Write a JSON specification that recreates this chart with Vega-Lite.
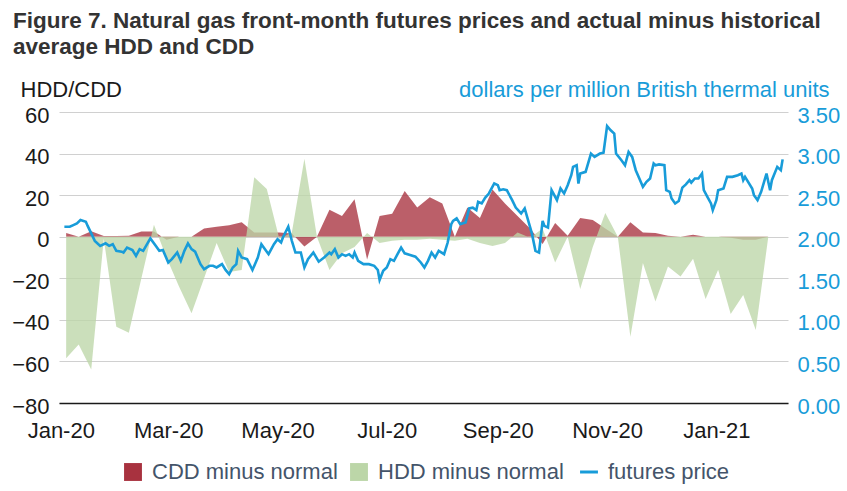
{
  "$schema": "https://vega.github.io/schema/vega-lite/v6.json",
  "width": 729,
  "height": 291,
  "autosize": {"type": "none"},
  "padding": {"left": 59, "top": 112, "right": 59, "bottom": 88},
  "background": "white",
  "title": {
    "text": ["Figure 7. Natural gas front-month futures prices and actual minus historical", "average HDD and CDD"],
    "anchor": "start",
    "frame": "group",
    "fontSize": 22.5,
    "fontWeight": "bold",
    "color": "#333333",
    "lineHeight": 26,
    "dx": -46,
    "offset": 20
  },
  "datasets": {
    "weekly": [
      {"date": "2020-01-04", "HDD": -58.5, "CDD": 1.8},
      {"date": "2020-01-11", "HDD": -51.8, "CDD": 0},
      {"date": "2020-01-18", "HDD": -63.9, "CDD": 2.6},
      {"date": "2020-01-25", "HDD": -1, "CDD": 0.3},
      {"date": "2020-02-01", "HDD": -43.3, "CDD": 0.3},
      {"date": "2020-02-08", "HDD": -46.2, "CDD": 0.5},
      {"date": "2020-02-15", "HDD": -20, "CDD": 2.5},
      {"date": "2020-02-22", "HDD": 5.8, "CDD": 2.5},
      {"date": "2020-02-29", "HDD": -10, "CDD": -1.5},
      {"date": "2020-03-07", "HDD": -24, "CDD": 0},
      {"date": "2020-03-14", "HDD": -36.8, "CDD": 0},
      {"date": "2020-03-21", "HDD": -20, "CDD": 4},
      {"date": "2020-03-28", "HDD": -3, "CDD": 4.8},
      {"date": "2020-04-04", "HDD": -17, "CDD": 5.5},
      {"date": "2020-04-11", "HDD": -16, "CDD": 7},
      {"date": "2020-04-18", "HDD": 28.6, "CDD": 2},
      {"date": "2020-04-25", "HDD": 23, "CDD": 2},
      {"date": "2020-05-02", "HDD": -1, "CDD": 2},
      {"date": "2020-05-09", "HDD": 2, "CDD": 1.5},
      {"date": "2020-05-16", "HDD": 37.5, "CDD": -4.7},
      {"date": "2020-05-23", "HDD": 0, "CDD": 0},
      {"date": "2020-05-30", "HDD": -16, "CDD": 13},
      {"date": "2020-06-06", "HDD": -8, "CDD": 10},
      {"date": "2020-06-13", "HDD": -5, "CDD": 18},
      {"date": "2020-06-20", "HDD": 1.8, "CDD": -11},
      {"date": "2020-06-27", "HDD": -3, "CDD": 10},
      {"date": "2020-07-04", "HDD": -2, "CDD": 11},
      {"date": "2020-07-11", "HDD": -1.5, "CDD": 22},
      {"date": "2020-07-18", "HDD": -1.5, "CDD": 14},
      {"date": "2020-07-25", "HDD": -1, "CDD": 19},
      {"date": "2020-08-01", "HDD": -1.5, "CDD": 16},
      {"date": "2020-08-08", "HDD": -2, "CDD": 0},
      {"date": "2020-08-15", "HDD": -1, "CDD": 14},
      {"date": "2020-08-22", "HDD": -3, "CDD": 9},
      {"date": "2020-08-29", "HDD": -4.5, "CDD": 22.7},
      {"date": "2020-09-05", "HDD": -3, "CDD": 16},
      {"date": "2020-09-12", "HDD": 2, "CDD": 10},
      {"date": "2020-09-19", "HDD": -0.5, "CDD": 4},
      {"date": "2020-09-26", "HDD": 4, "CDD": -3.5},
      {"date": "2020-10-03", "HDD": -12.4, "CDD": 6.6},
      {"date": "2020-10-10", "HDD": 0, "CDD": 0.5},
      {"date": "2020-10-17", "HDD": -25.2, "CDD": 9},
      {"date": "2020-10-24", "HDD": -5, "CDD": 8},
      {"date": "2020-10-31", "HDD": 11.4, "CDD": 4},
      {"date": "2020-11-07", "HDD": 0, "CDD": 0},
      {"date": "2020-11-14", "HDD": -48.1, "CDD": 7},
      {"date": "2020-11-21", "HDD": -12.7, "CDD": 2},
      {"date": "2020-11-28", "HDD": -31.2, "CDD": 1.8},
      {"date": "2020-12-05", "HDD": -14.3, "CDD": 0.5},
      {"date": "2020-12-12", "HDD": -19.2, "CDD": 0},
      {"date": "2020-12-19", "HDD": -10.6, "CDD": 1},
      {"date": "2020-12-26", "HDD": -30, "CDD": 0},
      {"date": "2021-01-02", "HDD": -15.9, "CDD": 0},
      {"date": "2021-01-09", "HDD": -37.2, "CDD": -0.5},
      {"date": "2021-01-16", "HDD": -28, "CDD": -1.5},
      {"date": "2021-01-23", "HDD": -44.9, "CDD": -1.5},
      {"date": "2021-01-30", "HDD": 0, "CDD": 0}
    ],
    "price": [
      {"date": "2020-01-03", "price": 2.12},
      {"date": "2020-01-06", "price": 2.12},
      {"date": "2020-01-08", "price": 2.14},
      {"date": "2020-01-10", "price": 2.16},
      {"date": "2020-01-12", "price": 2.2},
      {"date": "2020-01-15", "price": 2.18},
      {"date": "2020-01-16", "price": 2.13},
      {"date": "2020-01-18", "price": 2.04},
      {"date": "2020-01-20", "price": 1.95},
      {"date": "2020-01-23", "price": 1.89},
      {"date": "2020-01-26", "price": 1.92},
      {"date": "2020-01-28", "price": 1.89},
      {"date": "2020-01-30", "price": 1.91},
      {"date": "2020-02-01", "price": 1.83},
      {"date": "2020-02-04", "price": 1.82},
      {"date": "2020-02-05", "price": 1.81},
      {"date": "2020-02-07", "price": 1.87},
      {"date": "2020-02-10", "price": 1.84},
      {"date": "2020-02-12", "price": 1.77},
      {"date": "2020-02-14", "price": 1.85},
      {"date": "2020-02-16", "price": 1.83},
      {"date": "2020-02-20", "price": 1.98},
      {"date": "2020-02-23", "price": 1.89},
      {"date": "2020-02-25", "price": 1.83},
      {"date": "2020-02-27", "price": 1.84},
      {"date": "2020-03-01", "price": 1.69},
      {"date": "2020-03-03", "price": 1.73},
      {"date": "2020-03-06", "price": 1.81},
      {"date": "2020-03-08", "price": 1.71},
      {"date": "2020-03-10", "price": 1.83},
      {"date": "2020-03-12", "price": 1.92},
      {"date": "2020-03-14", "price": 1.85},
      {"date": "2020-03-16", "price": 1.82},
      {"date": "2020-03-19", "price": 1.67},
      {"date": "2020-03-21", "price": 1.61},
      {"date": "2020-03-24", "price": 1.65},
      {"date": "2020-03-26", "price": 1.65},
      {"date": "2020-03-28", "price": 1.63},
      {"date": "2020-03-31", "price": 1.67},
      {"date": "2020-04-02", "price": 1.6},
      {"date": "2020-04-04", "price": 1.55},
      {"date": "2020-04-06", "price": 1.63},
      {"date": "2020-04-08", "price": 1.67},
      {"date": "2020-04-09", "price": 1.83},
      {"date": "2020-04-11", "price": 1.75},
      {"date": "2020-04-14", "price": 1.73},
      {"date": "2020-04-17", "price": 1.6},
      {"date": "2020-04-20", "price": 1.75},
      {"date": "2020-04-22", "price": 1.91},
      {"date": "2020-04-24", "price": 1.85},
      {"date": "2020-04-26", "price": 1.79},
      {"date": "2020-04-29", "price": 1.91},
      {"date": "2020-05-01", "price": 1.97},
      {"date": "2020-05-03", "price": 1.93},
      {"date": "2020-05-04", "price": 1.99},
      {"date": "2020-05-07", "price": 2.12},
      {"date": "2020-05-09", "price": 1.95},
      {"date": "2020-05-11", "price": 1.81},
      {"date": "2020-05-14", "price": 1.81},
      {"date": "2020-05-16", "price": 1.63},
      {"date": "2020-05-18", "price": 1.73},
      {"date": "2020-05-21", "price": 1.81},
      {"date": "2020-05-24", "price": 1.7},
      {"date": "2020-05-27", "price": 1.75},
      {"date": "2020-05-30", "price": 1.81},
      {"date": "2020-05-31", "price": 1.79},
      {"date": "2020-06-02", "price": 1.85},
      {"date": "2020-06-04", "price": 1.75},
      {"date": "2020-06-06", "price": 1.79},
      {"date": "2020-06-08", "price": 1.77},
      {"date": "2020-06-10", "price": 1.79},
      {"date": "2020-06-12", "price": 1.75},
      {"date": "2020-06-13", "price": 1.81},
      {"date": "2020-06-15", "price": 1.71},
      {"date": "2020-06-18", "price": 1.67},
      {"date": "2020-06-21", "price": 1.67},
      {"date": "2020-06-24", "price": 1.65},
      {"date": "2020-06-26", "price": 1.6},
      {"date": "2020-06-27", "price": 1.48},
      {"date": "2020-06-29", "price": 1.59},
      {"date": "2020-07-01", "price": 1.63},
      {"date": "2020-07-03", "price": 1.73},
      {"date": "2020-07-05", "price": 1.71},
      {"date": "2020-07-07", "price": 1.79},
      {"date": "2020-07-09", "price": 1.87},
      {"date": "2020-07-11", "price": 1.8},
      {"date": "2020-07-14", "price": 1.78},
      {"date": "2020-07-17", "price": 1.76},
      {"date": "2020-07-20", "price": 1.69},
      {"date": "2020-07-22", "price": 1.63},
      {"date": "2020-07-24", "price": 1.71},
      {"date": "2020-07-26", "price": 1.81},
      {"date": "2020-07-28", "price": 1.75},
      {"date": "2020-07-30", "price": 1.83},
      {"date": "2020-08-02", "price": 1.79},
      {"date": "2020-08-04", "price": 1.93},
      {"date": "2020-08-06", "price": 2.15},
      {"date": "2020-08-07", "price": 2.19},
      {"date": "2020-08-09", "price": 2.22},
      {"date": "2020-08-11", "price": 2.15},
      {"date": "2020-08-14", "price": 2.17},
      {"date": "2020-08-16", "price": 2.34},
      {"date": "2020-08-18", "price": 2.35},
      {"date": "2020-08-20", "price": 2.32},
      {"date": "2020-08-21", "price": 2.42},
      {"date": "2020-08-23", "price": 2.4},
      {"date": "2020-08-25", "price": 2.47},
      {"date": "2020-08-27", "price": 2.52},
      {"date": "2020-08-30", "price": 2.64},
      {"date": "2020-09-01", "price": 2.62},
      {"date": "2020-09-02", "price": 2.56},
      {"date": "2020-09-04", "price": 2.57},
      {"date": "2020-09-06", "price": 2.56},
      {"date": "2020-09-09", "price": 2.44},
      {"date": "2020-09-11", "price": 2.35},
      {"date": "2020-09-14", "price": 2.28},
      {"date": "2020-09-16", "price": 2.34},
      {"date": "2020-09-18", "price": 2.19},
      {"date": "2020-09-20", "price": 2.04},
      {"date": "2020-09-22", "price": 1.83},
      {"date": "2020-09-24", "price": 1.81},
      {"date": "2020-09-26", "price": 2.19},
      {"date": "2020-09-27", "price": 2.13},
      {"date": "2020-09-29", "price": 2.11},
      {"date": "2020-10-01", "price": 2.56},
      {"date": "2020-10-02", "price": 2.52},
      {"date": "2020-10-04", "price": 2.44},
      {"date": "2020-10-06", "price": 2.58},
      {"date": "2020-10-08", "price": 2.52},
      {"date": "2020-10-10", "price": 2.62},
      {"date": "2020-10-12", "price": 2.74},
      {"date": "2020-10-13", "price": 2.84},
      {"date": "2020-10-15", "price": 2.86},
      {"date": "2020-10-16", "price": 2.64},
      {"date": "2020-10-17", "price": 2.76},
      {"date": "2020-10-20", "price": 2.78},
      {"date": "2020-10-23", "price": 3.0},
      {"date": "2020-10-25", "price": 2.96},
      {"date": "2020-10-28", "price": 3.0},
      {"date": "2020-10-30", "price": 3.01},
      {"date": "2020-11-01", "price": 3.33},
      {"date": "2020-11-03", "price": 3.28},
      {"date": "2020-11-05", "price": 3.24},
      {"date": "2020-11-06", "price": 3.0},
      {"date": "2020-11-09", "price": 2.92},
      {"date": "2020-11-11", "price": 2.86},
      {"date": "2020-11-13", "price": 3.02},
      {"date": "2020-11-15", "price": 2.96},
      {"date": "2020-11-17", "price": 2.8},
      {"date": "2020-11-19", "price": 2.7},
      {"date": "2020-11-21", "price": 2.6},
      {"date": "2020-11-23", "price": 2.66},
      {"date": "2020-11-25", "price": 2.7},
      {"date": "2020-11-27", "price": 2.88},
      {"date": "2020-11-28", "price": 2.86},
      {"date": "2020-11-30", "price": 2.87},
      {"date": "2020-12-03", "price": 2.86},
      {"date": "2020-12-04", "price": 2.56},
      {"date": "2020-12-06", "price": 2.54},
      {"date": "2020-12-07", "price": 2.46},
      {"date": "2020-12-09", "price": 2.4},
      {"date": "2020-12-11", "price": 2.43},
      {"date": "2020-12-13", "price": 2.59},
      {"date": "2020-12-15", "price": 2.63},
      {"date": "2020-12-17", "price": 2.68},
      {"date": "2020-12-18", "price": 2.65},
      {"date": "2020-12-20", "price": 2.7},
      {"date": "2020-12-22", "price": 2.7},
      {"date": "2020-12-24", "price": 2.76},
      {"date": "2020-12-25", "price": 2.56},
      {"date": "2020-12-27", "price": 2.48},
      {"date": "2020-12-29", "price": 2.4},
      {"date": "2020-12-30", "price": 2.32},
      {"date": "2021-01-01", "price": 2.44},
      {"date": "2021-01-02", "price": 2.56},
      {"date": "2021-01-05", "price": 2.58},
      {"date": "2021-01-07", "price": 2.72},
      {"date": "2021-01-10", "price": 2.72},
      {"date": "2021-01-13", "price": 2.74},
      {"date": "2021-01-15", "price": 2.76},
      {"date": "2021-01-16", "price": 2.68},
      {"date": "2021-01-17", "price": 2.72},
      {"date": "2021-01-21", "price": 2.58},
      {"date": "2021-01-22", "price": 2.5},
      {"date": "2021-01-24", "price": 2.44},
      {"date": "2021-01-26", "price": 2.54},
      {"date": "2021-01-29", "price": 2.76},
      {"date": "2021-01-31", "price": 2.56},
      {"date": "2021-02-01", "price": 2.68},
      {"date": "2021-02-04", "price": 2.84},
      {"date": "2021-02-06", "price": 2.8},
      {"date": "2021-02-07", "price": 2.93}
    ]
  },
  "layer": [
    {
      "data": {"name": "weekly"},
      "transform": [{"fold": ["CDD", "HDD"], "as": ["kind", "value"]}, {"calculate": "datum.kind + ' minus normal'", "as": "series"}],
      "mark": {"type": "area", "opacity": 0.78, "interpolate": "linear"},
      "encoding": {
        "x": {
          "field": "date", "type": "temporal",
          "scale": {"type": "utc", "domain": [{"year": 2019, "month": 12, "date": 31, "utc": true}, {"year": 2021, "month": 2, "date": 10, "utc": true}]},
          "axis": {
            "title": null, "format": "%b-%y", "grid": false, "ticks": false,
            "values": [
              {"year": 2020, "month": 1, "date": 1, "utc": true},
              {"year": 2020, "month": 3, "date": 1, "utc": true},
              {"year": 2020, "month": 5, "date": 1, "utc": true},
              {"year": 2020, "month": 7, "date": 1, "utc": true},
              {"year": 2020, "month": 9, "date": 1, "utc": true},
              {"year": 2020, "month": 11, "date": 1, "utc": true},
              {"year": 2021, "month": 1, "date": 1, "utc": true}
            ],
            "domainColor": "#1a1a1a", "domainWidth": 1.5,
            "labelPadding": 17, "labelFontSize": 22, "labelColor": "#1a1a1a"
          }
        },
        "y": {
          "field": "value", "type": "quantitative", "stack": null,
          "scale": {"domain": [-80, 60], "nice": false, "zero": false},
          "axis": {
            "title": "HDD/CDD", "titleAngle": 0, "titleAlign": "left", "titleBaseline": "alphabetic",
            "titleX": -39, "titleY": -16, "titleFontSize": 22, "titleFontWeight": "normal", "titleColor": "#1a1a1a",
            "values": [-80, -60, -40, -20, 0, 20, 40, 60],
            "grid": true, "gridColor": "#d0d0d0", "gridWidth": 1,
            "domain": false, "ticks": false, "labelPadding": 10, "labelOffset": 3,
            "labelFontSize": 22, "labelColor": "#1a1a1a"
          }
        },
        "y2": {"datum": 0},
        "color": {
          "field": "series", "type": "nominal",
          "scale": {"domain": ["CDD minus normal", "HDD minus normal", "futures price"], "range": ["#a8323f", "#bcd6a8", "#189cd9"]},
          "legend": {
            "title": null, "orient": "none", "direction": "horizontal", "legendX": 63, "legendY": 349,
            "labelFontSize": 22, "labelColor": "#44546a", "labelLimit": 400, "symbolSize": 320, "symbolOpacity": 1,
            "labelOffset": 8, "columnPadding": 10, "symbolStrokeWidth": 0,
            "encode": {
              "symbols": {
                "update": {
                  "shape": {"signal": "datum.label === 'futures price' ? 'stroke' : 'square'"},
                  "fill": {"signal": "datum.label === 'futures price' ? 'transparent' : scale('color', datum.value)"},
                  "stroke": {"signal": "scale('color', datum.value)"},
                  "strokeWidth": {"signal": "datum.label === 'futures price' ? 3 : 0"},
                  "opacity": {"value": 1}
                }
              }
            }
          }
        }
      }
    },
    {
      "data": {"name": "price"},
      "transform": [{"calculate": "'futures price'", "as": "series"}],
      "mark": {"type": "line", "strokeWidth": 2.6, "interpolate": "linear"},
      "encoding": {
        "x": {"field": "date", "type": "temporal"},
        "y": {
          "field": "price", "type": "quantitative",
          "scale": {"domain": [0, 3.5], "nice": false},
          "axis": {
            "orient": "right", "title": "dollars per million British thermal units",
            "titleAngle": 0, "titleAlign": "right", "titleBaseline": "alphabetic",
            "titleX": 41, "titleY": -16, "titleFontSize": 22, "titleFontWeight": "normal", "titleColor": "#189cd9",
            "values": [0, 0.5, 1, 1.5, 2, 2.5, 3, 3.5], "format": ".2f",
            "grid": false, "domain": false, "ticks": false, "labelPadding": 9, "labelOffset": 3,
            "labelFontSize": 22, "labelColor": "#189cd9"
          }
        },
        "color": {"field": "series", "type": "nominal"}
      }
    }
  ],
  "resolve": {"scale": {"y": "independent"}},
  "config": {
    "font": "Liberation Sans",
    "view": {"stroke": null}
  }
}
